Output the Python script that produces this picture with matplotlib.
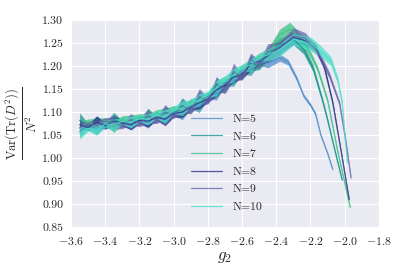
import numpy as np
import matplotlib
matplotlib.use("Agg")
import matplotlib.pyplot as plt
import seaborn as sns

sns.set_style("darkgrid")
plt.rcParams['font.family'] = 'serif'
plt.rcParams['font.serif'] = ['cmr10']
plt.rcParams['mathtext.fontset'] = 'cm'
plt.rcParams['axes.formatter.use_mathtext'] = True

# common low-g2 grid, then each N has its own points through the peak and drop
left_g2 = [-3.55, -3.50, -3.45, -3.40, -3.35, -3.30, -3.25, -3.20, -3.15, -3.10, -3.05, -3.00,
           -2.95, -2.90, -2.85, -2.80, -2.75, -2.70, -2.65, -2.60, -2.55, -2.50, -2.45]

labels = ['N=5', 'N=6', 'N=7', 'N=8', 'N=9', 'N=10']
colors = ['#4f8ecb', '#17958a', '#3ec285', '#2c2e8a', '#6b65aa', '#4fdfcb']

left_5 = [1.058, 1.070, 1.064, 1.076, 1.070, 1.080, 1.074, 1.082, 1.078, 1.090, 1.086, 1.100,
          1.098, 1.114, 1.112, 1.134, 1.140, 1.164, 1.168, 1.190, 1.192, 1.210, 1.206]
left_6 = [1.082, 1.068, 1.078, 1.072, 1.084, 1.074, 1.082, 1.078, 1.092, 1.084, 1.098, 1.096,
          1.114, 1.106, 1.130, 1.126, 1.158, 1.150, 1.184, 1.178, 1.206, 1.200, 1.226]
left_7 = [1.064, 1.078, 1.070, 1.082, 1.068, 1.084, 1.078, 1.090, 1.082, 1.098, 1.092, 1.106,
          1.102, 1.122, 1.118, 1.138, 1.150, 1.170, 1.172, 1.196, 1.198, 1.220, 1.222]
left_8 = [1.072, 1.066, 1.078, 1.070, 1.080, 1.076, 1.072, 1.082, 1.080, 1.088, 1.084, 1.096,
          1.100, 1.110, 1.120, 1.128, 1.148, 1.158, 1.176, 1.180, 1.204, 1.210, 1.222]
left_9 = [1.066, 1.074, 1.070, 1.080, 1.076, 1.070, 1.084, 1.076, 1.090, 1.082, 1.100, 1.092,
          1.112, 1.104, 1.134, 1.124, 1.162, 1.148, 1.188, 1.176, 1.214, 1.204, 1.232]
left_10 = [1.054, 1.064, 1.062, 1.074, 1.072, 1.080, 1.078, 1.086, 1.084, 1.094, 1.090, 1.104,
           1.108, 1.118, 1.126, 1.138, 1.152, 1.170, 1.180, 1.196, 1.202, 1.218, 1.224]

tail_g2_5 = [-2.38, -2.33, -2.28, -2.24, -2.20, -2.17, -2.14, -2.10, -2.07]
tail_5 = [1.218, 1.208, 1.172, 1.135, 1.115, 1.095, 1.050, 1.010, 0.975]
tail_g2_6 = [-2.38, -2.30, -2.24, -2.185, -2.13, -2.10, -2.06, -2.015]
tail_6 = [1.245, 1.258, 1.236, 1.195, 1.125, 1.082, 1.020, 0.952]
tail_g2_7 = [-2.38, -2.32, -2.27, -2.22, -2.16, -2.10, -2.04, -1.968]
tail_7 = [1.268, 1.280, 1.264, 1.240, 1.195, 1.125, 1.012, 0.893]
tail_g2_8 = [-2.38, -2.30, -2.24, -2.17, -2.12, -2.07, -2.02, -1.974]
tail_8 = [1.240, 1.262, 1.256, 1.240, 1.198, 1.120, 1.012, 0.910]
tail_g2_9 = [-2.38, -2.30, -2.23, -2.16, -2.09, -2.03, -1.995, -1.963]
tail_9 = [1.238, 1.265, 1.260, 1.232, 1.180, 1.118, 1.040, 0.957]
tail_g2_10 = [-2.38, -2.30, -2.20, -2.14, -2.08, -2.04, -2.015, -1.985]
tail_10 = [1.235, 1.258, 1.248, 1.232, 1.210, 1.168, 1.120, 0.990]

err_5 = [0.012, 0.006, 0.014, 0.008, 0.011, 0.005, 0.012, 0.007, 0.013, 0.006, 0.012, 0.008,
         0.015, 0.007, 0.013, 0.006, 0.014, 0.008, 0.012, 0.006, 0.013, 0.008, 0.010,
         0.008, 0.006, 0.005, 0.004, 0.004, 0.004, 0.003, 0.003, 0.003]
err_6 = [0.016, 0.007, 0.014, 0.006, 0.015, 0.008, 0.013, 0.006, 0.016, 0.007, 0.014, 0.006,
         0.017, 0.008, 0.015, 0.007, 0.016, 0.008, 0.014, 0.007, 0.017, 0.008, 0.014,
         0.016, 0.012, 0.010, 0.008, 0.006, 0.005, 0.004, 0.003]
err_7 = [0.014, 0.007, 0.016, 0.006, 0.013, 0.008, 0.015, 0.006, 0.014, 0.007, 0.016, 0.008,
         0.013, 0.007, 0.016, 0.006, 0.018, 0.008, 0.015, 0.007, 0.016, 0.008, 0.015,
         0.012, 0.015, 0.010, 0.008, 0.006, 0.005, 0.004, 0.003]
err_8 = [0.011, 0.006, 0.013, 0.007, 0.012, 0.006, 0.011, 0.007, 0.013, 0.006, 0.014, 0.007,
         0.012, 0.006, 0.013, 0.007, 0.014, 0.006, 0.012, 0.007, 0.014, 0.008, 0.013,
         0.013, 0.012, 0.010, 0.008, 0.006, 0.005, 0.004, 0.003]
err_9 = [0.012, 0.006, 0.011, 0.007, 0.014, 0.006, 0.012, 0.008, 0.015, 0.007, 0.016, 0.006,
         0.014, 0.008, 0.017, 0.007, 0.015, 0.008, 0.018, 0.007, 0.014, 0.008, 0.016,
         0.014, 0.018, 0.012, 0.009, 0.007, 0.005, 0.004, 0.003]
err_10 = [0.013, 0.006, 0.012, 0.007, 0.014, 0.006, 0.013, 0.007, 0.012, 0.008, 0.015, 0.007,
          0.016, 0.008, 0.014, 0.007, 0.017, 0.008, 0.015, 0.007, 0.014, 0.008, 0.013,
          0.014, 0.013, 0.015, 0.012, 0.010, 0.007, 0.005, 0.004]

series = [
    (left_5, tail_g2_5, tail_5, err_5),
    (left_6, tail_g2_6, tail_6, err_6),
    (left_7, tail_g2_7, tail_7, err_7),
    (left_8, tail_g2_8, tail_8, err_8),
    (left_9, tail_g2_9, tail_9, err_9),
    (left_10, tail_g2_10, tail_10, err_10),
]

fig = plt.figure(figsize=(4.07, 2.80), dpi=100)
ax = fig.add_axes([0.1745, 0.189, 0.7565, 0.74])

for (left, tg, tv, err), lab, c in zip(series, labels, colors):
    g2 = np.array(left_g2 + tg)
    val = np.array(left + tv)
    e = np.array(err)
    ax.fill_between(g2, val - e, val + e, color=c, alpha=0.75, lw=0)
    ax.plot(g2, val, color=c, lw=0.9, alpha=0.8, label=lab)

ax.set_xlim(-3.6, -1.8)
ax.set_ylim(0.85, 1.30)
ax.set_xticks(np.arange(-3.6, -1.79, 0.2))
ax.set_yticks(np.arange(0.85, 1.301, 0.05))
ax.yaxis.set_major_formatter(matplotlib.ticker.FormatStrFormatter('%.2f'))
ax.xaxis.set_major_formatter(matplotlib.ticker.FuncFormatter(
    lambda v, p: '$%.1f$' % v))
ax.tick_params(labelsize=8.5, pad=2)
ax.set_xlabel(r'$g_2$', fontsize=12, labelpad=2)
ax.set_ylabel(r'$\frac{\mathrm{Var}(\mathrm{Tr}(D^2))}{N^2}$', fontsize=13, labelpad=2)

ax.legend(loc='upper left', bbox_to_anchor=(0.375, 0.57), frameon=False,
          fontsize=8.5, handlelength=2.6, handletextpad=0.9,
          labelspacing=0.62, borderaxespad=0)

fig.savefig('out.png', dpi=100)
